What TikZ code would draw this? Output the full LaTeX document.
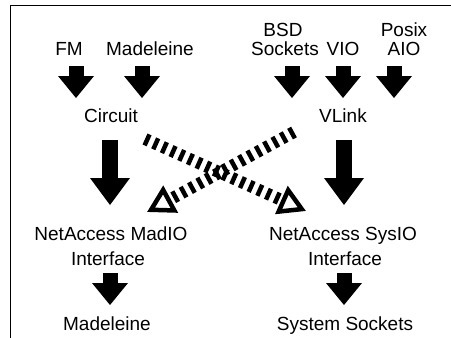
\documentclass[tikz,border=0pt]{standalone}
\usepackage{fontspec}
\setmainfont{Liberation Sans}
\usetikzlibrary{arrows.meta}
\begin{document}
\begin{tikzpicture}[x=1pt,y=-1pt,
  lbl/.style={anchor=base,inner sep=0pt,font=\fontsize{19}{22}\selectfont},
  blk/.style={line width=15pt,-{Triangle[length=22pt,width=36pt,line width=0pt]}},
  bigblk/.style={line width=16pt,-{Triangle[length=27pt,width=40pt,line width=0pt]}},
  dsh/.style={line width=12pt,dash pattern=on 4.5pt off 5pt,
    -{Triangle[open,length=27pt,width=30pt,line width=4.5pt]}}]
\useasboundingbox (0,0) rectangle (451,338);
\draw[line width=1pt] (10,338) -- (10,5) -- (451,5);
% top labels
\node[lbl] (bsd1) at (283,36) {BSD};
\node[lbl] (bsd2) at (285,55) {Sockets};
\node[lbl] (posix1) at (404,36) {Posix};
\node[lbl] (posix2) at (404,55) {AIO};
\node[lbl] (fm) at (69,55) {FM};
\node[lbl] (mad) at (150,55) {Madeleine};
\node[lbl] (vio) at (343,55) {VIO};
\node[lbl] (circuit) at (111,122) {Circuit};
\node[lbl] (vlink) at (343,122) {VLink};
\node[lbl] (madio1) at (111,240) {NetAccess MadIO};
\node[lbl] (madio2) at (108,265) {Interface};
\node[lbl] (sysio1) at (343,240) {NetAccess SysIO};
\node[lbl] (sysio2) at (345,265) {Interface};
\node[lbl] (madb) at (107,330) {Madeleine};
\node[lbl] (sys) at (345,330) {System Sockets};
% small arrows
\coordinate (a1s) at (76,66); \coordinate (a1e) at (76,98);
\coordinate (a2s) at (142,66); \coordinate (a2e) at (142,98);
\coordinate (a3s) at (292,66); \coordinate (a3e) at (292,98);
\coordinate (a4s) at (343,66); \coordinate (a4e) at (343,98);
\coordinate (a5s) at (394,66); \coordinate (a5e) at (394,98);
\draw[blk] (a1s) -- (a1e);
\draw[blk] (a2s) -- (a2e);
\draw[blk] (a3s) -- (a3e);
\draw[blk] (a4s) -- (a4e);
\draw[blk] (a5s) -- (a5e);
% big arrows
\coordinate (b1s) at (110,140); \coordinate (b1e) at (110,205);
\coordinate (b2s) at (344,140); \coordinate (b2e) at (344,205);
\draw[bigblk] (b1s) -- (b1e);
\draw[bigblk] (b2s) -- (b2e);
% bottom arrows
\coordinate (c1s) at (110,273); \coordinate (c1e) at (110,305);
\coordinate (c2s) at (344,273); \coordinate (c2e) at (344,305);
\draw[blk] (c1s) -- (c1e);
\draw[blk] (c2s) -- (c2e);
% dashed crossing arrows
\coordinate (d1s) at (145,139); \coordinate (d1e) at (306,211);
\coordinate (d2s) at (294,132); \coordinate (d2e) at (147,212);
\draw[dsh] (d1s) -- (d1e);
\draw[dsh] (d2s) -- (d2e);
\end{tikzpicture}
\end{document}
